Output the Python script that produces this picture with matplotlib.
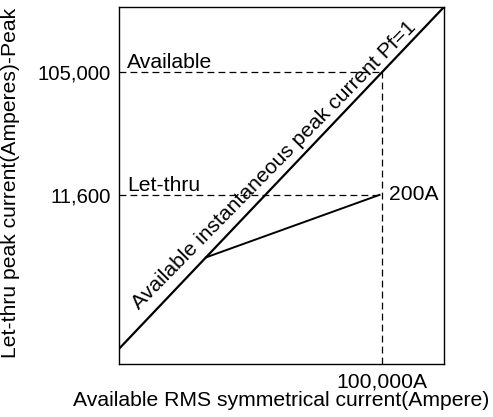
import matplotlib
matplotlib.use('Agg')
import matplotlib.pyplot as plt
import numpy as np

plt.rcParams['font.family'] = ['Liberation Sans', 'DejaVu Sans']

# axis ranges (log-log)
x_range = [700, 320000]
y_range = [560, 336000]

# available peak current line: peak = 1.05 * rms
avail_x = [700, 320000]
avail_y = [735, 336000]

# let-thru curve of the fuse
letthru_x = [3600, 95000]
letthru_y = [3780, 11600]

rms_value = 100000
avail_peak = 105000
letthru_peak = 11600

y_ticks = [letthru_peak, avail_peak]
y_tick_labels = ['11,600', '105,000']
x_ticks = [rms_value]
x_tick_labels = ['100,000A']

fs = 15.2

fig = plt.figure(figsize=(4.93, 4.17), dpi=100)
ax = fig.add_axes([0.2414, 0.1271, 0.6592, 0.8561])
ax.set_xscale('log')
ax.set_yscale('log')
ax.set_xlim(x_range)
ax.set_ylim(y_range)

ax.plot(avail_x, avail_y, color='black', lw=1.6, solid_capstyle='butt')
ax.plot(letthru_x, letthru_y, color='black', lw=1.4)

dash = (5.5, 3.3)
ax.plot([x_range[0], rms_value], [avail_peak, avail_peak], color='black', lw=0.9, dashes=dash)
ax.plot([x_range[0], rms_value], [letthru_peak, letthru_peak], color='black', lw=0.9, dashes=dash)
ax.plot([rms_value, rms_value], [y_range[0], avail_peak], color='black', lw=0.9, dashes=dash)

ax.set_xticks(x_ticks)
ax.set_xticklabels(x_tick_labels, fontsize=fs)
ax.set_yticks(y_ticks)
ax.set_yticklabels(y_tick_labels, fontsize=14.6)
ax.minorticks_off()
ax.tick_params(axis='x', length=0, pad=6)
ax.tick_params(axis='y', length=0, pad=6)
for s in ax.spines.values():
    s.set_linewidth(1.0)

ax.annotate('Available', xy=(0, avail_peak), xycoords=('axes fraction', 'data'),
            xytext=(6, 3), textcoords='offset points', fontsize=fs, va='baseline')
ax.annotate('Let-thru', xy=(0, letthru_peak), xycoords=('axes fraction', 'data'),
            xytext=(6, 3), textcoords='offset points', fontsize=fs, va='baseline')
ax.annotate('200A', xy=(rms_value, letthru_peak), xytext=(5, 0),
            textcoords='offset points', fontsize=fs, va='center')

# label along the diagonal, rotated to the line's on-screen angle
p0, p1 = ax.transData.transform([(avail_x[0], avail_y[0]), (avail_x[1], avail_y[1])])
ang = np.degrees(np.arctan2(p1[1] - p0[1], p1[0] - p0[0]))
gap = 8.5
off = (-gap * np.sin(np.radians(ang)), gap * np.cos(np.radians(ang)))
lab_x = 1200
ax.annotate('Available instantaneous peak current Pf=1', xy=(lab_x, lab_x * 1.05),
            xytext=off, textcoords='offset points', fontsize=fs,
            rotation=ang - 1.0, rotation_mode='anchor', ha='left', va='baseline')

ax.set_xlabel('Available RMS symmetrical current(Ampere)', fontsize=fs)
ax.xaxis.set_label_coords(0.5, -0.075)
ax.set_ylabel('Let-thru peak current(Amperes)-Peak', fontsize=fs)
ax.yaxis.set_label_coords(-0.305, 0.506)

fig.savefig('out.png', dpi=100)
